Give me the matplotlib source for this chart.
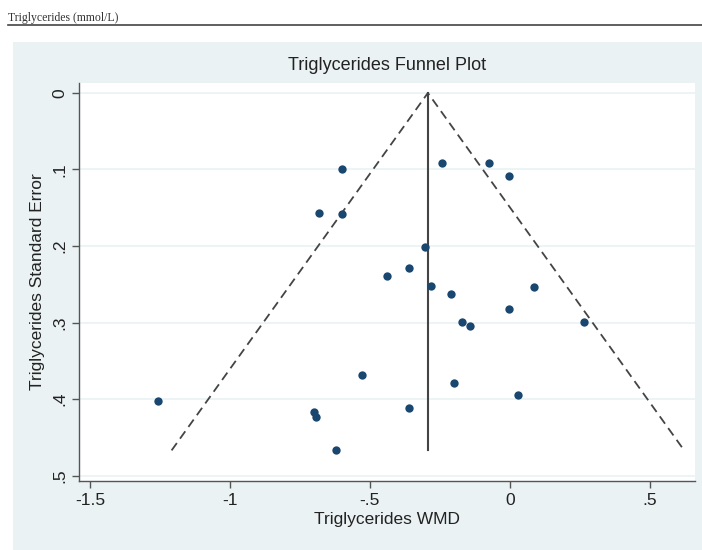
import numpy as np
import matplotlib.pyplot as plt
from matplotlib.patches import Rectangle

plt.rcParams['font.family'] = ['Liberation Sans', 'DejaVu Sans']

# study estimates
wmd = [-1.256, -0.601, -0.682, -0.601, -0.242, -0.073, -0.003, -0.304,
       -0.361, -0.440, -0.282, -0.212, -0.172, -0.143, -0.003, 0.087,
       0.265, -0.700, -0.693, -0.620, -0.530, -0.361, -0.201, 0.028]
se = [0.403, 0.100, 0.157, 0.158, 0.092, 0.092, 0.109, 0.201,
      0.229, 0.239, 0.252, 0.263, 0.299, 0.304, 0.282, 0.254,
      0.299, 0.417, 0.424, 0.467, 0.368, 0.411, 0.379, 0.395]
pooled = -0.293

xticks = [-1.5, -1, -0.5, 0, 0.5]
xticklabels = ['-1.5', '-1', '-.5', '0', '.5']
yticks = [0, 0.1, 0.2, 0.3, 0.4, 0.5]
yticklabels = ['0', '.1', '.2', '.3', '.4', '.5']

bg = '#EAF2F3'
navy = '#1A476F'
axcol = '#555555'

fig = plt.figure(figsize=(7.02, 5.5), dpi=100)
fig.patch.set_facecolor('white')

# header above the graph
fig.text(8/702, 1 - 21/550, 'Triglycerides (mmol/L)', family='Liberation Serif',
         fontsize=8.5, color='#333333', va='baseline')
fig.add_artist(plt.Line2D([8/702, 1], [1 - 25/550, 1 - 25/550], color='#444444', lw=1.2))
# stata graph region
fig.add_artist(Rectangle((13/702, 0), 1, 1 - 42/550, facecolor=bg, edgecolor='none', zorder=0))

ax = fig.add_axes([79/702, 69/550, 616/702, 398/550])
ax.set_facecolor('white')

for t in yticks:
    ax.axhline(t, color=bg, lw=1.2, zorder=1)

max_se = max(se)
ax.plot([pooled, pooled], [0, max_se], color='#444444', lw=1.5, zorder=2)
ax.plot([pooled - 1.96 * max_se, pooled, pooled + 1.96 * max_se], [max_se, 0, max_se],
        color='#444444', lw=1.3, ls=(0, (5, 3)), zorder=2)
ax.scatter(wmd, se, s=36, color=navy, zorder=3, linewidths=0)

ax.set_xlim(-1.539, 0.661)
ax.set_ylim(0.507, -0.013)
ax.set_xticks(xticks)
ax.set_xticklabels(xticklabels)
ax.set_yticks(yticks)
ax.set_yticklabels(yticklabels, rotation=90, va='center')
ax.tick_params(axis='both', colors=axcol, labelcolor='#222222', labelsize=12.5, length=5, width=1)

for s in ['top', 'right']:
    ax.spines[s].set_visible(False)
for s in ['left', 'bottom']:
    ax.spines[s].set_color(axcol)
    ax.spines[s].set_linewidth(1)

ax.set_title('Triglycerides Funnel Plot', fontsize=13, color='#222222', pad=9)
ax.set_xlabel('Triglycerides WMD', fontsize=12.5, color='#222222', labelpad=3)
ax.set_ylabel('Triglycerides Standard Error', fontsize=12.5, color='#222222', labelpad=5)

fig.savefig('out.png', dpi=100, facecolor=fig.get_facecolor())
